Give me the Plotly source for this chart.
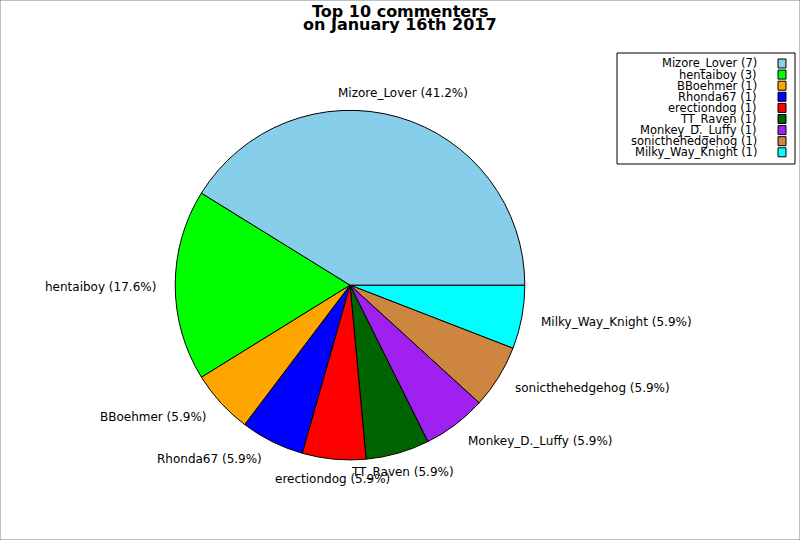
import numpy as np
import plotly.graph_objects as go

# commenters and their comment counts
names = ["Mizore_Lover", "hentaiboy", "BBoehmer", "Rhonda67", "erectiondog",
         "TT_Raven", "Monkey_D._Luffy", "sonicthehedgehog", "Milky_Way_Knight"]
counts = [7, 3, 1, 1, 1, 1, 1, 1, 1]
colors = ["#87CEEB", "#00FF00", "#FFA500", "#0000FF", "#FF0000",
          "#006400", "#A020F0", "#CD853F", "#00FFFF"]
title_lines = ["Top 10 commenters", "on January 16th 2017"]

font = "DejaVu Sans"
W, H = 800, 540
dom_x = [0.219, 0.656]
dom_y = [0.148, 0.796]

# plotly's counterclockwise mode shifts the first slice, so feed the slices
# reversed and go clockwise from 3 o'clock: same picture as the original
fig = go.Figure(
    go.Pie(
        labels=names[::-1],
        values=counts[::-1],
        sort=False,
        direction="clockwise",
        rotation=90,
        marker=dict(colors=colors[::-1], line=dict(color="black", width=1)),
        textinfo="none",
        showlegend=False,
        domain=dict(x=dom_x, y=dom_y),
        hoverinfo="label+value+percent",
    )
)

annotations = []

# slice labels at 1.1 x radius, matplotlib style
cx = (dom_x[0] + dom_x[1]) / 2
cy = (dom_y[0] + dom_y[1]) / 2
r = (dom_x[1] - dom_x[0]) * W / 2  # radius in px
total = sum(counts)
start = 0.0
for n, c in zip(names, counts):
    frac = c / total
    mid = 2 * np.pi * (start + frac / 2)
    start += frac
    dx, dy = np.cos(mid), np.sin(mid)
    if abs(dx) < 0.35:
        xa = "center"
    else:
        xa = "left" if dx > 0 else "right"
    annotations.append(dict(
        x=cx + 1.1 * r * dx / W, y=cy + 1.1 * r * dy / H,
        xref="paper", yref="paper",
        text=f"{n} ({frac * 100:.1f}%)", showarrow=False,
        xanchor=xa, yanchor="bottom" if dy > 0.9 else "middle", yshift=-2,
        font=dict(family=font, size=12, color="black"),
    ))

# hand-made legend box, colour patches on the right like the original
shapes = [dict(type="rect", xref="paper", yref="paper",
               x0=617 / W, x1=795 / W, y0=1 - 164 / H, y1=1 - 53 / H,
               line=dict(color="black", width=1), fillcolor="white")]
for i, (n, c, col) in enumerate(zip(names, counts, colors)):
    yc = 63.5 + i * 11.1
    annotations.append(dict(
        x=759 / W, y=1 - yc / H, xref="paper", yref="paper",
        text=f"{n} ({c})", showarrow=False, xanchor="right", yanchor="middle",
        font=dict(family=font, size=11.5, color="black"),
    ))
    shapes.append(dict(type="rect", xref="paper", yref="paper",
                       x0=778 / W, x1=786 / W,
                       y0=1 - (yc + 4.5) / H, y1=1 - (yc - 4.5) / H,
                       line=dict(color="black", width=1), fillcolor=col))

# two-line bold title, tight line spacing
for i, t in enumerate(title_lines):
    annotations.append(dict(
        x=0.5, y=1 - (11 + 14 * i) / H, xref="paper", yref="paper",
        text=f"<b>{t}</b>", showarrow=False, xanchor="center", yanchor="middle",
        font=dict(family=font, size=16, color="black"),
    ))

# grey frame around the figure
shapes.append(dict(type="rect", xref="paper", yref="paper", x0=0, x1=1, y0=0, y1=1,
                   line=dict(color="#808080", width=1)))

fig.update_layout(
    width=W,
    height=H,
    margin=dict(l=0, r=0, t=0, b=0),
    paper_bgcolor="white",
    shapes=shapes,
    annotations=annotations,
)

fig.write_html("out.html", config={"displayModeBar": False},
               post_script="document.body.style.margin='0';")
